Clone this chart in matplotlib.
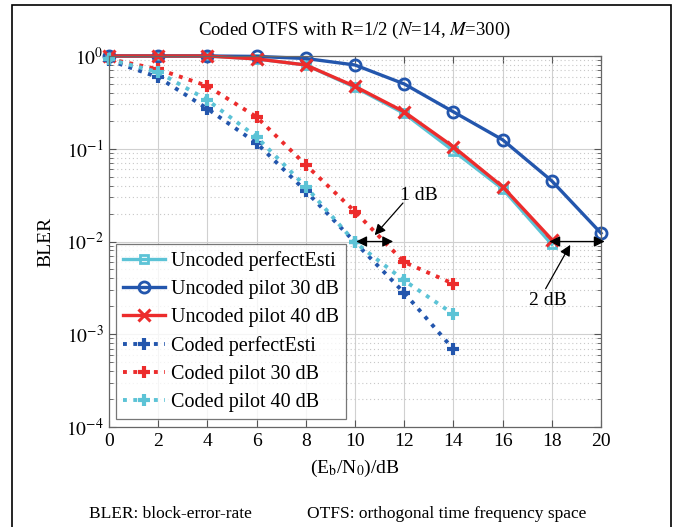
import matplotlib
matplotlib.use("Agg")
import matplotlib.pyplot as plt
from matplotlib.patches import Rectangle
from matplotlib.ticker import LogLocator, FixedLocator, NullFormatter

plt.rcParams['font.family'] = ['Liberation Serif', 'DejaVu Serif']
plt.rcParams['mathtext.fontset'] = 'stix'

# ---- data ----
x_uncoded_perf = [0, 2, 4, 6, 8, 10, 12, 14, 16, 18]
uncoded_perf = [1.0, 1.0, 1.0, 0.93, 0.80, 0.46, 0.24, 0.095, 0.037, 0.0093]
x_uncoded_p30 = [0, 2, 4, 6, 8, 10, 12, 14, 16, 18, 20]
uncoded_p30 = [1.0, 1.0, 1.0, 0.99, 0.94, 0.80, 0.50, 0.25, 0.125, 0.045, 0.0123]
x_uncoded_p40 = [0, 2, 4, 6, 8, 10, 12, 14, 16, 18]
uncoded_p40 = [1.0, 1.0, 1.0, 0.93, 0.80, 0.47, 0.25, 0.105, 0.039, 0.0105]
x_coded = [0, 2, 4, 6, 8, 10, 12, 14]
coded_perf = [0.90, 0.59, 0.27, 0.115, 0.035, 0.0098, 0.0028, 0.00069]
coded_p30 = [0.93, 0.72, 0.475, 0.22, 0.067, 0.021, 0.0060, 0.0035]
coded_p40 = [0.92, 0.67, 0.335, 0.134, 0.039, 0.0098, 0.0038, 0.00165]

labels = ["Uncoded perfectEsti", "Uncoded pilot 30 dB", "Uncoded pilot 40 dB",
          "Coded perfectEsti", "Coded pilot 30 dB", "Coded pilot 40 dB"]
xticks = [0, 2, 4, 6, 8, 10, 12, 14, 16, 18, 20]

c_cyan = '#5cc3d6'
c_blue = '#2356ad'
c_red = '#ec2c2c'

fig = plt.figure(figsize=(6.74, 5.27), dpi=100)
ax = fig.add_axes([109/674, 1-427/527, (601-109)/674, (427-56)/527])

lw = 2.4
ax.plot(x_uncoded_perf, uncoded_perf, '-', color=c_cyan, lw=lw, marker='s',
        ms=6, mfc='none', mew=2.0, label=labels[0], clip_on=False)
ax.plot(x_uncoded_p30, uncoded_p30, '-', color=c_blue, lw=lw, marker='o',
        ms=8, mfc='none', mew=2.0, label=labels[1], clip_on=False)
ax.plot(x_uncoded_p40, uncoded_p40, '-', color=c_red, lw=lw, marker='x',
        ms=8, mew=2.2, label=labels[2], clip_on=False)
ax.plot(x_coded, coded_perf, ':', color=c_blue, lw=2.8, marker='+',
        ms=9, mew=3.0, label=labels[3], clip_on=False)
ax.plot(x_coded, coded_p30, ':', color=c_red, lw=2.8, marker='+',
        ms=9, mew=3.0, label=labels[4], clip_on=False)
ax.plot(x_coded, coded_p40, ':', color=c_cyan, lw=2.8, marker='+',
        ms=9, mew=3.0, label=labels[5], clip_on=False)

ax.set_yscale('log')
ax.set_xlim(0, 20)
ax.set_ylim(1e-4, 1)
ax.set_xticks(xticks)
ax.set_xticklabels([str(t) for t in xticks])
ax.yaxis.set_major_locator(FixedLocator([1e-4, 1e-3, 1e-2, 1e-1, 1]))
ax.set_yticklabels([r'$10^{-4}$', r'$10^{-3}$', r'$10^{-2}$', r'$10^{-1}$', r'$10^{0}$'])
ax.yaxis.set_minor_locator(LogLocator(base=10, subs=range(2, 10), numticks=20))
ax.yaxis.set_minor_formatter(NullFormatter())

ax.grid(True, which='major', color='#d0d0d0', lw=0.8, ls='-')
ax.grid(True, which='minor', axis='y', color='#c8c8c8', lw=0.8, ls=(0, (1, 2.5)))
ax.set_axisbelow(True)
ax.tick_params(which='both', direction='in', top=True, right=True, color='#555555')
ax.tick_params(which='major', length=5, labelsize=14, pad=4)
ax.tick_params(which='minor', length=3)
for sp in ax.spines.values():
    sp.set_color('#666666')
    sp.set_linewidth(0.9)

ax.set_title(r'Coded OTFS with R=1/2 ($N$=14, $M$=300)', fontsize=13.5, pad=15)
ax.set_xlabel(r'(E$_\mathrm{b}$/N$_0$)/dB', fontsize=14, labelpad=6)
ax.set_ylabel('BLER', fontsize=14, labelpad=8)

leg = ax.legend(loc='lower left', bbox_to_anchor=(0.014, 0.022), fontsize=14.5,
                frameon=True, fancybox=False, edgecolor='#555555',
                handlelength=2.1, handletextpad=0.3, labelspacing=0.44,
                borderpad=0.35, borderaxespad=0.0)
leg.get_frame().set_linewidth(0.9)

# annotations
arr = dict(arrowstyle='<|-|>', color='black', lw=0.9, mutation_scale=16,
           shrinkA=0, shrinkB=0)
ax.annotate('', xy=(10.05, 1e-2), xytext=(11.55, 1e-2), arrowprops=arr)
ax.annotate('', xy=(17.9, 1e-2), xytext=(20.15, 1e-2), arrowprops=arr,
            annotation_clip=False)
ptr = dict(arrowstyle='-|>', color='black', lw=0.9, mutation_scale=16,
           shrinkA=0, shrinkB=0)
ax.annotate('', xy=(10.8, 0.0117), xytext=(11.95, 0.026), arrowprops=ptr)
ax.text(12.6, 0.031, '1 dB', fontsize=14, ha='center', va='center')
ax.annotate('', xy=(18.75, 0.0092), xytext=(17.75, 0.0031), arrowprops=ptr)
ax.text(17.85, 0.0023, '2 dB', fontsize=14, ha='center', va='center')

# footer
fig.text(89/674, 1-514/527, 'BLER: block-error-rate', fontsize=12.5,
         ha='left', va='center')
fig.text(307/674, 1-514/527, 'OTFS: orthogonal time frequency space',
         fontsize=12.5, ha='left', va='center')

# frame
fig.add_artist(Rectangle((12/674, -0.02), (671-12)/674, (527-5)/527 + 0.02,
                         transform=fig.transFigure, fill=False,
                         edgecolor='black', lw=1.2))

fig.savefig('out.png', dpi=100)
